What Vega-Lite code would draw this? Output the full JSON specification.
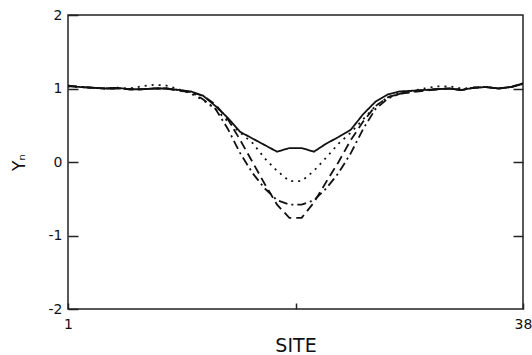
{
  "$schema": "https://vega.github.io/schema/vega-lite/v6.json",
  "autosize": "none",
  "width": 455,
  "height": 294,
  "padding": {"left": 68, "top": 15, "right": 9, "bottom": 46},
  "background": "white",
  "config": {
    "view": {"stroke": "#222", "strokeWidth": 1.5},
    "axis": {"grid": false, "domain": false, "labelFont": "DejaVu Sans", "titleFont": "DejaVu Sans", "labelColor": "#111", "titleColor": "#111", "tickColor": "#222", "tickWidth": 1.5, "labelFontSize": 14, "titleFontWeight": "normal"}
  },
  "datasets": {
    "lines": [
      {"site": 1, "y": 1.03, "s": "a"}, {"site": 2, "y": 1.02, "s": "a"}, {"site": 3, "y": 1.01, "s": "a"}, {"site": 4, "y": 1.0, "s": "a"}, {"site": 5, "y": 1.01, "s": "a"}, {"site": 6, "y": 0.99, "s": "a"}, {"site": 7, "y": 0.99, "s": "a"}, {"site": 8, "y": 1.0, "s": "a"}, {"site": 9, "y": 1.0, "s": "a"}, {"site": 10, "y": 0.98, "s": "a"}, {"site": 11, "y": 0.96, "s": "a"}, {"site": 12, "y": 0.9, "s": "a"}, {"site": 13, "y": 0.76, "s": "a"}, {"site": 14, "y": 0.6, "s": "a"}, {"site": 15, "y": 0.41, "s": "a"}, {"site": 16, "y": 0.32, "s": "a"}, {"site": 17, "y": 0.23, "s": "a"}, {"site": 18, "y": 0.14, "s": "a"}, {"site": 19, "y": 0.19, "s": "a"}, {"site": 20, "y": 0.19, "s": "a"}, {"site": 21, "y": 0.14, "s": "a"}, {"site": 22, "y": 0.25, "s": "a"}, {"site": 23, "y": 0.34, "s": "a"}, {"site": 24, "y": 0.44, "s": "a"}, {"site": 25, "y": 0.65, "s": "a"}, {"site": 26, "y": 0.82, "s": "a"}, {"site": 27, "y": 0.92, "s": "a"}, {"site": 28, "y": 0.96, "s": "a"}, {"site": 29, "y": 0.97, "s": "a"}, {"site": 30, "y": 0.98, "s": "a"}, {"site": 31, "y": 0.99, "s": "a"}, {"site": 32, "y": 1.0, "s": "a"}, {"site": 33, "y": 0.98, "s": "a"}, {"site": 34, "y": 1.01, "s": "a"}, {"site": 35, "y": 1.02, "s": "a"}, {"site": 36, "y": 1.0, "s": "a"}, {"site": 37, "y": 1.02, "s": "a"}, {"site": 38, "y": 1.07, "s": "a"},

      {"site": 1, "y": 1.03, "s": "b"}, {"site": 2, "y": 1.02, "s": "b"}, {"site": 3, "y": 1.01, "s": "b"}, {"site": 4, "y": 1.0, "s": "b"}, {"site": 5, "y": 1.01, "s": "b"}, {"site": 6, "y": 1.0, "s": "b"}, {"site": 7, "y": 1.03, "s": "b"}, {"site": 8, "y": 1.05, "s": "b"}, {"site": 9, "y": 1.04, "s": "b"}, {"site": 10, "y": 0.99, "s": "b"}, {"site": 11, "y": 0.93, "s": "b"}, {"site": 12, "y": 0.84, "s": "b"}, {"site": 13, "y": 0.72, "s": "b"}, {"site": 14, "y": 0.55, "s": "b"}, {"site": 15, "y": 0.4, "s": "b"}, {"site": 16, "y": 0.26, "s": "b"}, {"site": 17, "y": 0.05, "s": "b"}, {"site": 18, "y": -0.12, "s": "b"}, {"site": 19, "y": -0.26, "s": "b"}, {"site": 20, "y": -0.26, "s": "b"}, {"site": 21, "y": -0.12, "s": "b"}, {"site": 22, "y": 0.06, "s": "b"}, {"site": 23, "y": 0.25, "s": "b"}, {"site": 24, "y": 0.4, "s": "b"}, {"site": 25, "y": 0.58, "s": "b"}, {"site": 26, "y": 0.76, "s": "b"}, {"site": 27, "y": 0.88, "s": "b"}, {"site": 28, "y": 0.94, "s": "b"}, {"site": 29, "y": 0.97, "s": "b"}, {"site": 30, "y": 1.0, "s": "b"}, {"site": 31, "y": 1.03, "s": "b"}, {"site": 32, "y": 1.03, "s": "b"}, {"site": 33, "y": 1.0, "s": "b"}, {"site": 34, "y": 1.01, "s": "b"}, {"site": 35, "y": 1.02, "s": "b"}, {"site": 36, "y": 1.0, "s": "b"}, {"site": 37, "y": 1.02, "s": "b"}, {"site": 38, "y": 1.07, "s": "b"},

      {"site": 1, "y": 1.04, "s": "c"}, {"site": 2, "y": 1.02, "s": "c"}, {"site": 3, "y": 1.01, "s": "c"}, {"site": 4, "y": 1.0, "s": "c"}, {"site": 5, "y": 1.0, "s": "c"}, {"site": 6, "y": 0.99, "s": "c"}, {"site": 7, "y": 0.99, "s": "c"}, {"site": 8, "y": 1.0, "s": "c"}, {"site": 9, "y": 1.0, "s": "c"}, {"site": 10, "y": 0.98, "s": "c"}, {"site": 11, "y": 0.95, "s": "c"}, {"site": 12, "y": 0.85, "s": "c"}, {"site": 13, "y": 0.72, "s": "c"}, {"site": 14, "y": 0.45, "s": "c"}, {"site": 15, "y": 0.12, "s": "c"}, {"site": 16, "y": -0.15, "s": "c"}, {"site": 17, "y": -0.36, "s": "c"}, {"site": 18, "y": -0.52, "s": "c"}, {"site": 19, "y": -0.58, "s": "c"}, {"site": 20, "y": -0.58, "s": "c"}, {"site": 21, "y": -0.52, "s": "c"}, {"site": 22, "y": -0.36, "s": "c"}, {"site": 23, "y": -0.15, "s": "c"}, {"site": 24, "y": 0.12, "s": "c"}, {"site": 25, "y": 0.45, "s": "c"}, {"site": 26, "y": 0.72, "s": "c"}, {"site": 27, "y": 0.86, "s": "c"}, {"site": 28, "y": 0.93, "s": "c"}, {"site": 29, "y": 0.96, "s": "c"}, {"site": 30, "y": 0.98, "s": "c"}, {"site": 31, "y": 0.99, "s": "c"}, {"site": 32, "y": 1.0, "s": "c"}, {"site": 33, "y": 0.98, "s": "c"}, {"site": 34, "y": 1.01, "s": "c"}, {"site": 35, "y": 1.02, "s": "c"}, {"site": 36, "y": 1.0, "s": "c"}, {"site": 37, "y": 1.02, "s": "c"}, {"site": 38, "y": 1.06, "s": "c"},

      {"site": 1, "y": 1.04, "s": "d"}, {"site": 2, "y": 1.02, "s": "d"}, {"site": 3, "y": 1.01, "s": "d"}, {"site": 4, "y": 1.0, "s": "d"}, {"site": 5, "y": 1.0, "s": "d"}, {"site": 6, "y": 0.99, "s": "d"}, {"site": 7, "y": 0.99, "s": "d"}, {"site": 8, "y": 1.0, "s": "d"}, {"site": 9, "y": 1.0, "s": "d"}, {"site": 10, "y": 0.97, "s": "d"}, {"site": 11, "y": 0.95, "s": "d"}, {"site": 12, "y": 0.9, "s": "d"}, {"site": 13, "y": 0.78, "s": "d"}, {"site": 14, "y": 0.58, "s": "d"}, {"site": 15, "y": 0.3, "s": "d"}, {"site": 16, "y": 0.0, "s": "d"}, {"site": 17, "y": -0.3, "s": "d"}, {"site": 18, "y": -0.58, "s": "d"}, {"site": 19, "y": -0.76, "s": "d"}, {"site": 20, "y": -0.76, "s": "d"}, {"site": 21, "y": -0.55, "s": "d"}, {"site": 22, "y": -0.27, "s": "d"}, {"site": 23, "y": 0.0, "s": "d"}, {"site": 24, "y": 0.3, "s": "d"}, {"site": 25, "y": 0.55, "s": "d"}, {"site": 26, "y": 0.76, "s": "d"}, {"site": 27, "y": 0.88, "s": "d"}, {"site": 28, "y": 0.93, "s": "d"}, {"site": 29, "y": 0.95, "s": "d"}, {"site": 30, "y": 0.97, "s": "d"}, {"site": 31, "y": 0.99, "s": "d"}, {"site": 32, "y": 1.0, "s": "d"}, {"site": 33, "y": 0.98, "s": "d"}, {"site": 34, "y": 1.01, "s": "d"}, {"site": 35, "y": 1.02, "s": "d"}, {"site": 36, "y": 1.0, "s": "d"}, {"site": 37, "y": 1.02, "s": "d"}, {"site": 38, "y": 1.06, "s": "d"}
    ]
  },
  "data": {"name": "lines"},
  "layer": [
    {
      "mark": {"type": "line", "color": "#111", "strokeWidth": 1.8, "clip": true},
      "encoding": {
        "x": {"field": "site", "type": "quantitative", "scale": {"domain": [1, 38], "nice": false, "zero": false},
          "axis": {"orient": "bottom", "values": [1, 19.5, 38], "tickSize": -6, "labelPadding": 14, "labelExpr": "datum.value == 19.5 ? '' : datum.label", "labelFlush": false, "title": "SITE", "titleFontSize": 19, "titlePadding": 5}},
        "y": {"field": "y", "type": "quantitative", "scale": {"domain": [-2, 2], "nice": false},
          "axis": {"orient": "left", "values": [-2, -1, 0, 1, 2], "tickSize": -10, "labelPadding": 16, "labelExpr": "datum.value < 0 ? '-' + abs(datum.value) : '' + datum.value", "title": "Yₙ", "titleFontSize": 17, "titlePadding": 20}},
        "detail": {"field": "s"},
        "strokeDash": {"field": "s", "type": "nominal", "scale": {"domain": ["a", "b", "c", "d"], "range": [[1, 0], [2, 5], [9, 4, 2, 4], [9, 5]]}, "legend": null}
      }
    },
    {
      "mark": {"type": "line", "opacity": 0},
      "encoding": {
        "x": {"field": "site", "type": "quantitative"},
        "y": {"field": "y", "type": "quantitative", "axis": {"orient": "right", "values": [-1, 0, 1], "tickSize": -10, "labels": false, "title": null}},
        "detail": {"field": "s"}
      }
    }
  ],
  "resolve": {"axis": {"y": "independent"}}
}
